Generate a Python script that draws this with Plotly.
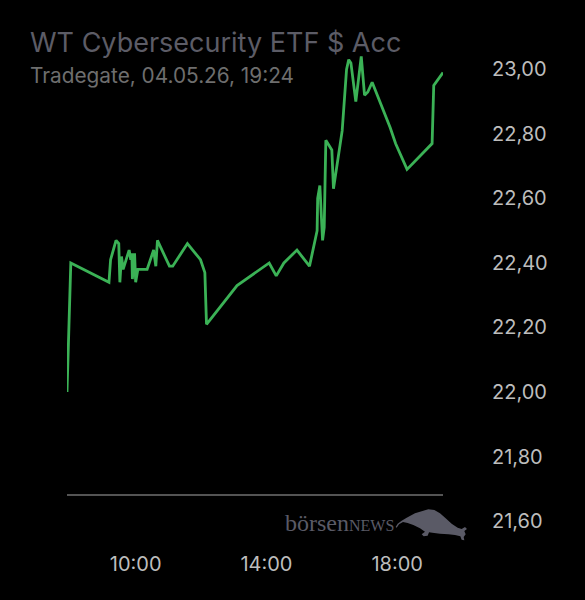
import plotly.graph_objects as go

# intraday quotes, 04.05.2026 (Tradegate)
times = [
    "07:54", "08:01", "09:11", "09:14", "09:24", "09:29", "09:31", "09:34", "09:37", "09:48",
    "09:51", "09:53", "09:54", "09:58", "10:00", "10:04", "10:21", "10:33", "10:37", "10:40",
    "11:02", "11:08", "11:35", "11:59", "12:07", "12:10", "13:06", "14:05", "14:18", "14:32",
    "14:56", "15:19", "15:33", "15:34", "15:38", "15:43", "15:46", "15:49", "16:00", "16:03",
    "16:19", "16:27", "16:31", "16:35", "16:44", "16:54", "17:00", "17:06", "17:14", "17:47",
    "17:57", "18:18", "19:04", "19:07", "19:24",
]
prices = [
    22.00, 22.40, 22.34, 22.41, 22.47, 22.46, 22.34, 22.42, 22.38, 22.44,
    22.41, 22.43, 22.35, 22.43, 22.34, 22.38, 22.38, 22.44, 22.39, 22.47,
    22.39, 22.39, 22.46, 22.41, 22.37, 22.21, 22.33, 22.40, 22.36, 22.40,
    22.44, 22.39, 22.50, 22.60, 22.64, 22.47, 22.51, 22.78, 22.75, 22.63,
    22.81, 23.00, 23.03, 23.02, 22.90, 23.04, 22.92, 22.93, 22.96, 22.82,
    22.77, 22.69, 22.77, 22.95, 22.99,
]
tick_times = ["10:00", "14:00", "18:00"]
price_ticks = [21.6, 21.8, 22.0, 22.2, 22.4, 22.6, 22.8, 23.0]

day = "2026-05-04"
W, H = 585, 600
L, R, T, B = 67, 142, 50, 66


def px(x):
    return (x - L) / (W - L - R)


def py(y):
    return (H - B - y) / (H - T - B)


fig = go.Figure(go.Scatter(
    x=[f"{day} {t}" for t in times],
    y=prices,
    mode="lines",
    line=dict(color="#3bb256", width=2.8),
    hoverinfo="skip",
))

# börsenNEWS bull, rough silhouette (logo pixels, 1/3 scale)
bull = [(2, 66), (8, 56), (20, 47), (35, 38), (60, 25), (85, 17), (100, 13), (118, 15), (135, 25),
        (152, 40), (170, 56), (188, 68), (200, 72), (210, 66), (216, 72), (208, 78), (212, 88),
        (206, 96), (208, 106), (200, 104), (196, 94), (180, 90), (160, 88), (135, 86), (112, 83),
        (102, 82), (98, 92), (86, 94), (80, 88), (90, 80), (75, 70), (55, 60), (38, 54), (24, 51),
        (12, 58), (5, 68)]
path = "M " + " L ".join(f"{px(395 + a / 3):.4f},{py(505 + b / 3):.4f}" for a, b in bull) + " Z"

fig.update_layout(
    width=W, height=H,
    margin=dict(l=L, r=R, t=T, b=B),
    paper_bgcolor="#000000",
    plot_bgcolor="#000000",
    separators=",.",
    showlegend=False,
    font=dict(family="Inter, sans-serif", color="#bdbdbd"),
    xaxis=dict(
        range=[f"{day} 07:54", f"{day} 19:24"],
        tickvals=[f"{day} {t}" for t in tick_times],
        ticktext=tick_times,
        showgrid=False, zeroline=False, showline=False,
        ticks="", ticklabelstandoff=16,
        tickfont=dict(size=20, color="#bdbdbd"),
    ),
    yaxis=dict(
        range=[21.56, 23.06],
        side="right",
        tickvals=price_ticks,
        tickformat=".2f",
        showgrid=False, zeroline=False, showline=False,
        ticks="", ticklabelstandoff=48,
        tickfont=dict(size=20, color="#bdbdbd"),
    ),
    shapes=[
        dict(type="line", xref="paper", yref="paper", x0=0, x1=1, y0=py(495), y1=py(495),
             line=dict(color="#707070", width=1.5)),
        dict(type="path", xref="paper", yref="paper", path=path,
             fillcolor="#5a5a66", line=dict(width=0)),
    ],
    annotations=[
        dict(text="WT Cybersecurity ETF $ Acc", xref="paper", yref="paper",
             x=px(28), y=py(42), xanchor="left", yanchor="middle", showarrow=False,
             font=dict(size=27, color="#5c5c66")),
        dict(text="Tradegate, 04.05.26, 19:24", xref="paper", yref="paper",
             x=px(28), y=py(75), xanchor="left", yanchor="middle", showarrow=False,
             font=dict(size=20.8, color="#6e6e6e")),
        dict(text="börsen<span style='font-size:16px'>NEWS</span>", xref="paper", yref="paper",
             x=px(283), y=py(538), xanchor="left", yanchor="bottom", showarrow=False,
             font=dict(family="Liberation Serif, serif", size=24, color="#5a5a66")),
    ],
)

fig.write_html("out.html", config={"displayModeBar": False},
               post_script="document.body.style.margin='0';document.body.style.background='#000';")
